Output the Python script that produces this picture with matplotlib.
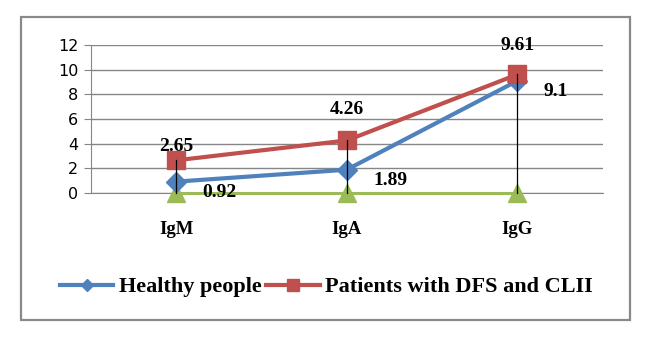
import matplotlib
matplotlib.use('Agg')
import matplotlib.pyplot as plt
from matplotlib.patches import Rectangle

# data
categories = ['IgM', 'IgA', 'IgG']
healthy = [0.92, 1.89, 9.1]
patients = [2.65, 4.26, 9.61]
baseline = [0, 0, 0]
healthy_labels = ['0.92', '1.89', '9.1']
patient_labels = ['2.65', '4.26', '9.61']
yticks = [0, 2, 4, 6, 8, 10, 12]

BLUE = '#4F81BD'
RED = '#C0504D'
GREEN = '#9BBB59'
GRID = '#868686'
SERIF = 'Liberation Serif'

fig = plt.figure(figsize=(6.53, 3.49), dpi=100)
ax = fig.add_axes([0.139, 0.447, 0.784, 0.424])

x = list(range(len(categories)))

# high-low lines (drawn over the markers)
for xi, lo, hi in zip(x, baseline, patients):
	ax.plot([xi, xi], [lo, hi], color='black', lw=0.9, zorder=6, clip_on=False)

ax.plot(x, baseline, color=GREEN, lw=2.2, marker='^', ms=13, zorder=3, clip_on=False)
l1, = ax.plot(x, healthy, color=BLUE, lw=3, marker='D', ms=10, zorder=4, clip_on=False,
		label='Healthy people')
l2, = ax.plot(x, patients, color=RED, lw=3, marker='s', ms=13, zorder=4, clip_on=False,
		label='Patients with DFS and CLII')

ax.set_xlim(-0.5, 2.5)
ax.set_ylim(0, 12)
ax.set_yticks(yticks)
ax.set_xticks(x)
ax.set_xticklabels(categories, fontfamily=SERIF, fontweight='bold', fontsize=13.5)
ax.tick_params(axis='x', length=0, pad=20)
ax.tick_params(axis='y', length=5, color=GRID, labelsize=11.5, pad=4)
ax.yaxis.grid(True, color=GRID, lw=1)
ax.set_axisbelow(True)
for s in ['top', 'right']:
	ax.spines[s].set_visible(False)
ax.spines['left'].set_color(GRID)
ax.spines['bottom'].set_color(GRID)

# data labels
red_offsets = [(0, 10), (0, 22), (0, 21)]
for xi, v, t, off in zip(x, patients, patient_labels, red_offsets):
	ax.annotate(t, (xi, v), xytext=off, textcoords='offset points', ha='center',
			va='center', fontfamily=SERIF, fontweight='bold', fontsize=14)
for xi, v, t in zip(x, healthy, healthy_labels):
	ax.annotate(t, (xi, v), xytext=(19, -8), textcoords='offset points', ha='left',
			va='center', fontfamily=SERIF, fontweight='bold', fontsize=14)

leg = fig.legend(handles=[l1, l2], loc='center', bbox_to_anchor=(0.5, 1 - 287 / 349), ncol=2,
		frameon=False, handlelength=2.4, columnspacing=0.2, handletextpad=0.25,
		prop={'family': SERIF, 'weight': 'bold', 'size': 16})
for h, ms in zip(leg.legend_handles, [6.5, 8]):
	h.set_markersize(ms)

fig.add_artist(Rectangle((21 / 653, 1 - 320 / 349), 609 / 653, 303 / 349,
		transform=fig.transFigure, fill=False, edgecolor='#898989', lw=1.6))

fig.savefig('out.png', dpi=100)
